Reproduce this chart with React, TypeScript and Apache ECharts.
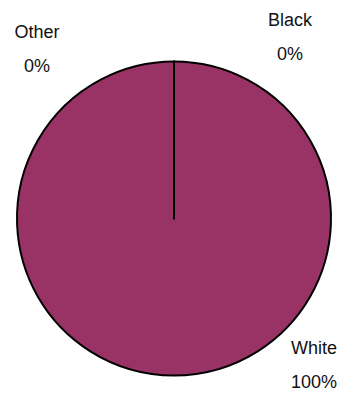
import React, { useEffect, useRef } from "react";
import * as echarts from "echarts";

const categories = ["White", "Black", "Other"];
const values = [100, 0, 0];

const labelSpots: Record<string, [number, number]> = {
  White: [314, 364.5],
  Black: [290, 37],
  Other: [37, 49],
};

export default function App() {
  const ref = useRef<HTMLDivElement>(null);
  useEffect(() => {
    if (!ref.current) return;
    const chart = echarts.init(ref.current, undefined, { renderer: "svg" });
    chart.setOption({
      animation: false,
      backgroundColor: "#ffffff",
      series: [
        {
          type: "pie",
          center: [174, 218.5],
          radius: [0, 157],
          startAngle: 90,
          clockwise: true,
          avoidLabelOverlap: false,
          stillShowZeroSum: true,
          itemStyle: { color: "#993366", borderColor: "#000000", borderWidth: 2 },
          emphasis: { disabled: true },
          label: {
            show: true,
            position: "outside",
            formatter: "{b}\n{d}%",
            fontFamily: "'Liberation Sans Narrow', 'Arial Narrow', 'Liberation Sans', Arial, sans-serif",
            fontSize: 18,
            lineHeight: 34,
            color: "#111111",
            align: "center",
          },
          labelLine: { show: false },
          labelLayout: (p: any) => {
            const name = categories[p.dataIndex];
            const s = labelSpots[name];
            return { x: s[0], y: s[1], align: "center", verticalAlign: "middle" };
          },
          data: categories.map((c, i) => ({ name: c, value: values[i] })),
        },
      ],
    });
    return () => chart.dispose();
  }, []);
  return (
    <div
      ref={ref}
      style={{ position: "fixed", left: 0, top: 0, width: 339, height: 393 }}
    />
  );
}
